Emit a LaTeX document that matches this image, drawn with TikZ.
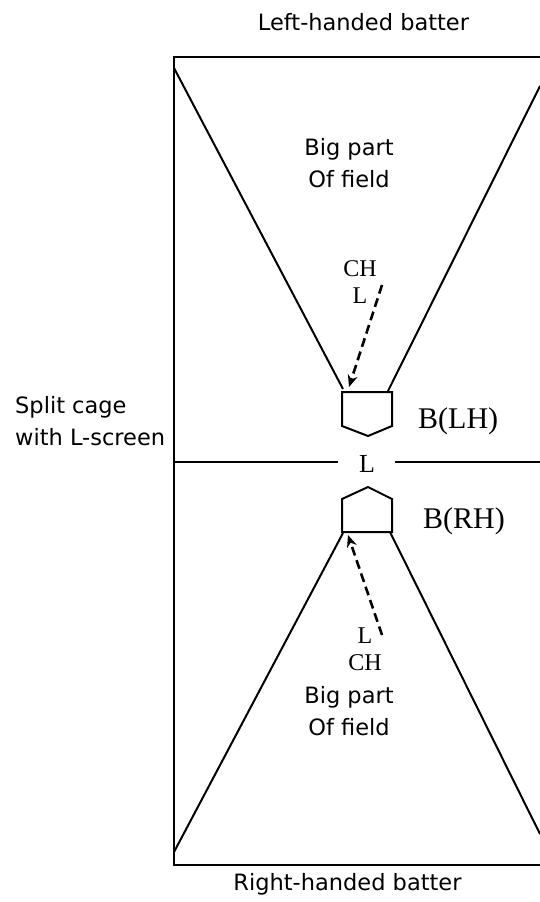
\documentclass[tikz,border=0pt]{standalone}
\usepackage{fontspec}
\setmainfont{Liberation Serif}
\newfontfamily\labsans{DejaVu Sans}
\usetikzlibrary{arrows.meta}
\begin{document}
\begin{tikzpicture}[x=1pt,y=-1pt,
  sanslab/.style={inner sep=0pt,font=\labsans\fontsize{22.5}{27}\selectfont},
  serlab/.style={inner sep=0pt,font=\fontsize{24}{28}\selectfont},
  batlab/.style={inner sep=0pt,font=\fontsize{30}{34}\selectfont,anchor=base west},
  frameline/.style={line width=2.6pt},
  fieldline/.style={line width=2pt},
  plate/.style={line width=2pt,line join=miter},
  pitch/.style={line width=2.6pt,dash pattern=on 9pt off 5pt,-{Stealth[length=12pt,width=10pt]}}]
\useasboundingbox (0,0) rectangle (540,902);
% frame
\coordinate (fTR) at (540,57);
\coordinate (fTL) at (174,57);
\coordinate (fBL) at (174,865);
\coordinate (fBR) at (540,865);
\draw[frameline] (fTR) -- (fTL) -- (fBL) -- (fBR);
% middle line with gap
\coordinate (mA) at (174,462);
\coordinate (mB) at (338,462);
\coordinate (mC) at (395,462);
\coordinate (mD) at (540,462);
\draw[fieldline] (mA) -- (mB);
\draw[fieldline] (mC) -- (mD);
% upper field lines
\coordinate (uL1) at (174,68);
\coordinate (uL2) at (343,389);
\coordinate (uR1) at (388,391);
\coordinate (uR2) at (540,86);
\draw[fieldline] (uL1) -- (uL2);
\draw[fieldline] (uR1) -- (uR2);
% lower field lines
\coordinate (lL1) at (343,533);
\coordinate (lL2) at (174,852);
\coordinate (lR1) at (390,532);
\coordinate (lR2) at (540,834);
\draw[fieldline] (lL1) -- (lL2);
\draw[fieldline] (lR1) -- (lR2);
% plates
\draw[plate] (342,392) -- (392,392) -- (392,426) -- (368,436) -- (342,426) -- cycle;
\draw[plate] (342,532) -- (392,532) -- (392,499) -- (368,487) -- (342,499) -- cycle;
% texts
\node[sanslab,anchor=base] (lhb) at (363.5,30) {Left-handed batter};
\node[sanslab,anchor=base] (rhb) at (347.5,890) {Right-handed batter};
\node[sanslab,anchor=base] (bp1) at (349,155) {Big part};
\node[sanslab,anchor=base] (of1) at (349,187) {Of field};
\node[sanslab,anchor=base] (bp2) at (349,703) {Big part};
\node[sanslab,anchor=base] (of2) at (349,735) {Of field};
\node[sanslab,anchor=base west] (sc1) at (15,413) {Split cage};
\node[sanslab,anchor=base west] (sc2) at (15,445) {with L-screen};
\node[serlab,anchor=base] (ch1) at (360,276) {CH};
\node[serlab,anchor=base] (l1) at (360,303) {L};
\node[serlab,anchor=base,font=\fontsize{26}{30}\selectfont] (lmid) at (367,472) {L};
\node[serlab,anchor=base] (l2) at (365,643) {L};
\node[serlab,anchor=base] (ch2) at (365,670) {CH};
\node[batlab] (blh) at (418,428) {B(LH)};
\node[batlab] (brh) at (423,528) {B(RH)};
% pitches
\coordinate (p1s) at (382,285);
\coordinate (p1e) at (349,387);
\coordinate (p2s) at (382,635);
\coordinate (p2e) at (348,535);
\draw[pitch] (p1s) -- (p1e);
\draw[pitch] (p2s) -- (p2e);
\end{tikzpicture}
\end{document}
